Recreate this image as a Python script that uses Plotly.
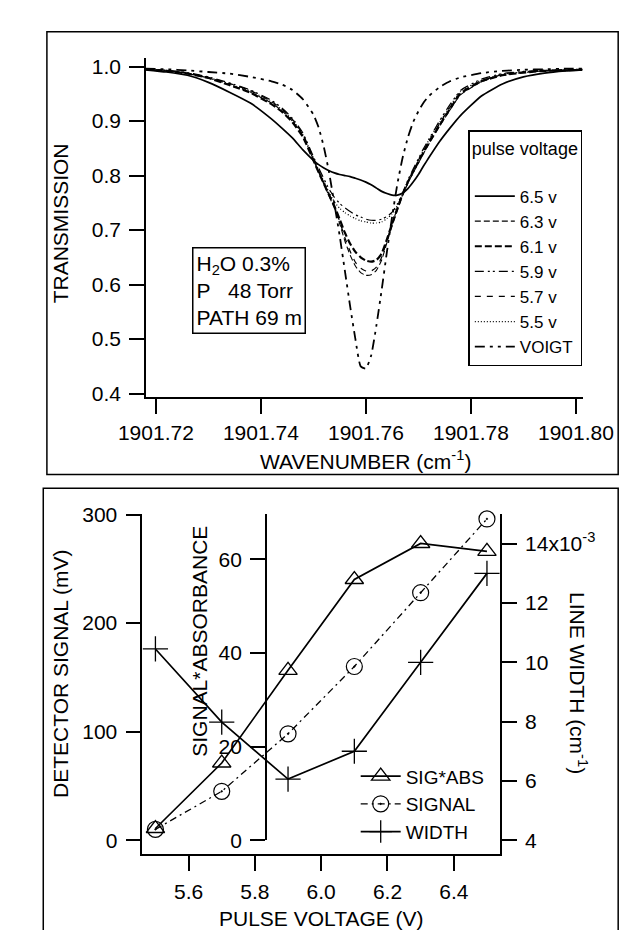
import plotly.graph_objects as go

W, H = 643, 930

# ---------------- top panel data ----------------
wavenumber = [1901.718, 1901.722, 1901.726, 1901.730, 1901.734, 1901.738, 1901.742, 1901.744,
              1901.746, 1901.748, 1901.750, 1901.751, 1901.752, 1901.753, 1901.754, 1901.755,
              1901.756, 1901.757, 1901.758, 1901.759, 1901.760, 1901.761, 1901.762, 1901.763,
              1901.764, 1901.765, 1901.766, 1901.767, 1901.768, 1901.769, 1901.770, 1901.771,
              1901.772, 1901.774, 1901.776, 1901.778, 1901.782, 1901.786, 1901.790, 1901.794,
              1901.798, 1901.8012]

t_6_5 = [0.994, 0.990, 0.984, 0.971, 0.953, 0.933, 0.904, 0.887, 0.869, 0.847, 0.828, 0.820,
         0.814, 0.809, 0.805, 0.802, 0.800, 0.798, 0.795, 0.792, 0.788, 0.783, 0.777, 0.771,
         0.767, 0.764, 0.764, 0.768, 0.776, 0.788, 0.802, 0.818, 0.833, 0.862, 0.887, 0.910,
         0.946, 0.968, 0.981, 0.988, 0.992, 0.994]
t_6_3 = [0.995, 0.992, 0.987, 0.979, 0.967, 0.953, 0.933, 0.919, 0.900, 0.873, 0.829, 0.806,
         0.784, 0.762, 0.740, 0.712, 0.680, 0.654, 0.634, 0.622, 0.617, 0.618, 0.626, 0.645,
         0.677, 0.708, 0.736, 0.763, 0.786, 0.805, 0.823, 0.841, 0.858, 0.890, 0.920, 0.948,
         0.972, 0.984, 0.989, 0.992, 0.993, 0.994]
t_6_1 = [0.995, 0.992, 0.987, 0.979, 0.966, 0.952, 0.931, 0.917, 0.898, 0.871, 0.828, 0.806,
         0.785, 0.764, 0.744, 0.720, 0.695, 0.675, 0.660, 0.650, 0.644, 0.642, 0.645, 0.657,
         0.683, 0.712, 0.740, 0.766, 0.788, 0.807, 0.825, 0.843, 0.860, 0.892, 0.922, 0.950,
         0.973, 0.984, 0.989, 0.992, 0.993, 0.994]
t_5_9 = [0.995, 0.993, 0.989, 0.981, 0.970, 0.957, 0.938, 0.924, 0.905, 0.878, 0.835, 0.814,
         0.794, 0.775, 0.760, 0.749, 0.741, 0.734, 0.728, 0.724, 0.720, 0.718, 0.718, 0.720,
         0.725, 0.733, 0.748, 0.768, 0.792, 0.812, 0.831, 0.850, 0.867, 0.900, 0.930, 0.956,
         0.977, 0.987, 0.991, 0.993, 0.994, 0.995]
t_5_7 = [0.995, 0.993, 0.988, 0.980, 0.969, 0.956, 0.936, 0.922, 0.903, 0.876, 0.832, 0.809,
         0.787, 0.765, 0.743, 0.716, 0.686, 0.661, 0.641, 0.630, 0.625, 0.625, 0.632, 0.650,
         0.681, 0.712, 0.740, 0.766, 0.789, 0.809, 0.828, 0.846, 0.863, 0.895, 0.925, 0.952,
         0.974, 0.985, 0.990, 0.992, 0.994, 0.995]
t_5_5 = [0.995, 0.993, 0.988, 0.980, 0.968, 0.955, 0.935, 0.921, 0.902, 0.875, 0.832, 0.810,
         0.789, 0.769, 0.752, 0.740, 0.732, 0.726, 0.721, 0.717, 0.715, 0.713, 0.713, 0.715,
         0.721, 0.730, 0.745, 0.766, 0.790, 0.810, 0.829, 0.848, 0.865, 0.897, 0.927, 0.954,
         0.975, 0.986, 0.990, 0.993, 0.994, 0.995]
t_voigt = [0.996, 0.995, 0.993, 0.990, 0.987, 0.981, 0.973, 0.967, 0.957, 0.940, 0.912, 0.888,
           0.852, 0.805, 0.748, 0.690, 0.625, 0.560, 0.500, 0.450, 0.446, 0.470, 0.525, 0.590,
           0.660, 0.725, 0.785, 0.833, 0.870, 0.898, 0.918, 0.934, 0.946, 0.962, 0.973, 0.980,
           0.988, 0.992, 0.994, 0.995, 0.996, 0.996]

top_series_names = ["6.5 v", "6.3 v", "6.1 v", "5.9 v", "5.7 v", "5.5 v", "VOIGT"]
top_xticks = [1901.72, 1901.74, 1901.76, 1901.78, 1901.80]
top_yticks = [0.4, 0.5, 0.6, 0.7, 0.8, 0.9, 1.0]

# ---------------- bottom panel data ----------------
voltage = [5.5, 5.7, 5.9, 6.1, 6.3, 6.5]
sig_abs = [2.5, 16.5, 36.3, 55.7, 63.4, 61.7]
signal_mv = [10, 45, 98, 160, 228, 296]
line_width = [0.01045, 0.00798, 0.00606, 0.0070, 0.0100, 0.0130]

bot_xticks = [5.6, 5.8, 6.0, 6.2, 6.4]
det_ticks = [0, 100, 200, 300]
sa_ticks = [0, 20, 40, 60]
lw_ticks = [0.004, 0.006, 0.008, 0.010, 0.012, 0.014]
lw_ticktext = ["4", "6", "8", "10", "12", "14x10<sup>-3</sup>"]


def px(x):
    return x / W


def py(y):
    return 1 - y / H


fig = go.Figure()

top_styles = [
    dict(width=1.7, dash="solid"),
    dict(width=1.1, dash="6px,3px"),
    dict(width=2.2, dash="7px,3px"),
    dict(width=1.2, dash="9px,4px,2px,3px,2px,4px"),
    dict(width=1.2, dash="6px,6px"),
    dict(width=1.2, dash="1px,2px"),
    dict(width=1.8, dash="10px,5px,3px,5px,3px,5px"),
]
top_values = [t_6_5, t_6_3, t_6_1, t_5_9, t_5_7, t_5_5, t_voigt]

for name, vals, st in zip(top_series_names, top_values, top_styles):
    fig.add_trace(go.Scatter(
        x=wavenumber, y=vals, mode="lines", name=name,
        line=dict(color="black", width=st["width"], dash=st["dash"], shape="spline", smoothing=0.5),
        xaxis="x", yaxis="y", legend="legend"))

fig.add_trace(go.Scatter(
    x=voltage, y=sig_abs, mode="lines+markers", name="SIG*ABS",
    line=dict(color="black", width=1.7),
    marker=dict(symbol="triangle-up-open", size=16, color="black", line=dict(width=1.3, color="black")),
    xaxis="x2", yaxis="y4", legend="legend2", cliponaxis=False))
fig.add_trace(go.Scatter(
    x=voltage, y=signal_mv, mode="lines+markers", name="SIGNAL",
    line=dict(color="black", width=1.3, dash="7px,4px,2px,4px"),
    marker=dict(symbol="circle-open-dot", size=16, color="black", line=dict(width=1.2, color="black")),
    xaxis="x2", yaxis="y3", legend="legend2", cliponaxis=False))
fig.add_trace(go.Scatter(
    x=voltage, y=line_width, mode="lines+markers", name="WIDTH",
    line=dict(color="black", width=1.7),
    marker=dict(symbol="cross-thin-open", size=18, color="black", line=dict(width=1.3, color="black")),
    xaxis="x2", yaxis="y5", legend="legend2", cliponaxis=False))

axis_common = dict(showline=True, linecolor="black", linewidth=1.5, ticks="outside", ticklen=15,
                   tickwidth=1.5, tickcolor="black", showgrid=False, zeroline=False,
                   tickfont=dict(size=21, color="black"))

fig.update_layout(
    width=W, height=H, margin=dict(l=0, r=0, t=0, b=0),
    paper_bgcolor="white", plot_bgcolor="rgba(0,0,0,0)",
    font=dict(family="Liberation Sans, Arial, sans-serif", size=21, color="black"),
    xaxis=dict(domain=[px(121), px(602)], range=[1901.7181, 1901.8013], anchor="y",
               tickvals=top_xticks, tickformat=".2f", ticklabelstandoff=1, **axis_common),
    yaxis=dict(domain=[py(387), py(39)], range=[0.393, 1.0156], anchor="x",
               tickvals=top_yticks, tickformat=".1f", ticklabelstandoff=4, **axis_common),
    xaxis2=dict(domain=[px(117), px(511)], range=[5.4603, 6.5397], anchor="y3",
                tickvals=bot_xticks, tickformat=".1f", ticklabelstandoff=3, **axis_common),
    yaxis3=dict(domain=[py(855), py(507)], range=[-12.6, 300.1], anchor="x2",
                tickvals=det_ticks, ticklabelstandoff=4, **axis_common),
    yaxis4=dict(domain=[py(841), py(507)], range=[0, 69.6], anchor="free", position=px(253),
                tickvals=sa_ticks, ticklabelstandoff=4, **axis_common),
    yaxis5=dict(range=[0.003539, 0.014987], overlaying="y3", side="right", anchor="x2",
                tickvals=lw_ticks, ticktext=lw_ticktext, ticklabelstandoff=4, **axis_common),
    legend=dict(x=px(476), y=py(113), xanchor="left", yanchor="top", bordercolor="black",
                borderwidth=1.5, bgcolor="white", font=dict(size=17),
                title=dict(text="pulse voltage<br> ", font=dict(size=18)),
                itemwidth=40, tracegroupgap=0),
    legend2=dict(x=px(352), y=py(756), xanchor="left", yanchor="top", borderwidth=0,
                 bgcolor="rgba(0,0,0,0)", font=dict(size=19), itemwidth=40, tracegroupgap=0),
    showlegend=True,
)

annotations = [
    dict(text="TRANSMISSION", x=px(27), y=py(209), textangle=-90),
    dict(text="WAVENUMBER (cm<sup>-1</sup>)", x=px(363), y=py(451)),
    dict(text="H<sub>2</sub>O 0.3%<br>P\u00a0\u00a0\u00a048 Torr<br>PATH 69 m", x=px(172), y=py(233),
         xanchor="left", yanchor="top", align="left", bordercolor="black", borderwidth=1.5,
         borderpad=3, bgcolor="white"),
    dict(text="DETECTOR SIGNAL (mV)", x=px(27), y=py(670), textangle=-90),
    dict(text="SIGNAL*ABSORBANCE", x=px(180), y=py(637), textangle=-90),
    dict(text="LINE WIDTH (cm<sup>-1</sup>)", x=px(597), y=py(680), textangle=90),
    dict(text="PULSE VOLTAGE (V)", x=px(314), y=py(921)),
]
for a in annotations:
    base = dict(xref="paper", yref="paper", showarrow=False, font=dict(size=21, color="black"))
    if "xanchor" not in a:
        base["xanchor"] = "center"
        base["yanchor"] = "middle"
    base.update(a)
    fig.add_annotation(**base)

fig.add_shape(type="rect", xref="paper", yref="paper", x0=px(12), x1=px(641), y0=py(466), y1=py(12),
              line=dict(color="black", width=1.5), layer="below")
fig.add_shape(type="rect", xref="paper", yref="paper", x0=px(8), x1=px(641), y0=py(940), y1=py(480),
              line=dict(color="black", width=1.5), layer="below")

fig.write_html("out.html")
